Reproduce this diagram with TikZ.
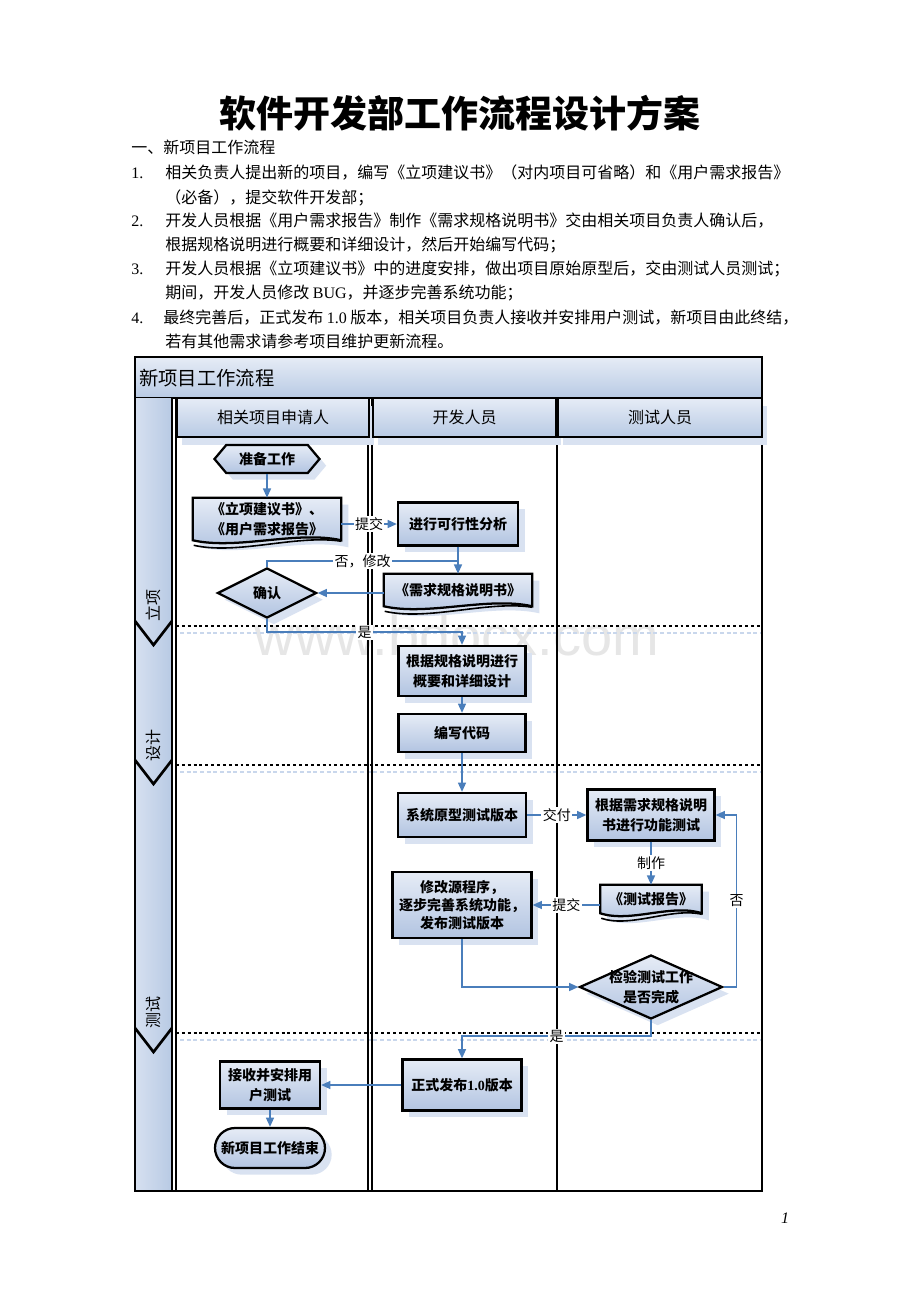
\documentclass[tikz,border=0pt]{standalone}
\usepackage{fontspec}
\setmainfont{Liberation Serif}
\newfontfamily\cjk{Noto Sans CJK SC}
\newfontfamily\wmfont{Liberation Sans}
\usetikzlibrary{shapes.geometric,shapes.symbols,shapes.misc,arrows.meta,calc,shadows}
\pgfdeclarelayer{back}
\pgfdeclarelayer{bg}
\pgfsetlayers{back,bg,main}
\definecolor{lb1}{HTML}{E6ECF6}
\definecolor{lb2}{HTML}{B2C4E1}
\definecolor{shblue}{HTML}{D9E2F1}
\definecolor{conn}{HTML}{4A7EBB}
\definecolor{colA}{HTML}{D6E0F0}
\definecolor{colB}{HTML}{B8CAE4}
\definecolor{wm}{HTML}{E6E6E6}
\definecolor{dshb}{HTML}{C9D7EC}

\tikzset{
 nodefont/.style={font=\cjk\bfseries\fontsize{10.5pt}{15pt}\selectfont},
 fc/.style={nodefont, draw=black, line width=1.7pt, top color=lb1, bottom color=lb2, align=center, inner sep=2pt,
   drop shadow={shadow xshift=5pt, shadow yshift=-5pt, fill=shblue, opacity=1}},
 procbox/.style={fc, rectangle},
 decision/.style={fc, diamond, inner sep=0pt},
 dtext/.style={nodefont, align=center, inner sep=0pt},
 docnode/.style={nodefont, rectangle, align=center, inner sep=0pt},
 flow/.style={draw=conn, line width=1.2pt, -{Triangle[width=6pt,length=7pt]}},
 flowline/.style={draw=conn, line width=1.2pt},
 lbl/.style={fill=white, inner sep=1pt, font=\cjk\fontsize{10.5pt}{12pt}\selectfont, text=black},
 body/.style={anchor=west, inner sep=0pt, text height=10.5pt, text depth=1.5pt, font=\cjk\fontsize{12pt}{14pt}\selectfont},
 numtxt/.style={anchor=west, inner sep=0pt, text height=10.5pt, text depth=1.5pt, font=\rmfamily\fontsize{12pt}{14pt}\selectfont},
 lane/.style={line width=2pt, draw=black},
 hdr/.style={draw=black, line width=1.7pt, top color=lb1, bottom color=colB, font=\cjk\fontsize{12pt}{14pt}\selectfont, minimum height=29.25pt, inner sep=0pt, drop shadow={shadow xshift=4pt, shadow yshift=-6pt, fill=shblue, opacity=1}},
 phase/.style={rotate=90, font=\cjk\fontsize{12pt}{14pt}\selectfont, inner sep=0pt},
 divider/.style={line width=2pt, dash pattern=on 2.2pt off 2.2pt},
 dividersh/.style={line width=2pt, draw=dshb, dash pattern=on 3pt off 2pt},
}

\newcommand\docshape[1]{%
 \begin{pgfonlayer}{bg}
 \fill[shblue] ($(#1.north west)+(7,7)$) -- ($(#1.north east)+(7,7)$) -- ($(#1.south east)+(7,7)$)
   .. controls ($(#1.south east)!0.3!(#1.south west)+(7,-3)$) and ($(#1.south east)!0.7!(#1.south west)+(7,17)$) .. ($(#1.south west)+(7,7)$) -- cycle;
 \path[draw=black, line width=1.7pt, top color=lb1, bottom color=lb2] (#1.north west) -- (#1.north east) -- (#1.south east)
   .. controls ($(#1.south east)!0.3!(#1.south west)+(0,-10)$) and ($(#1.south east)!0.7!(#1.south west)+(0,10)$) .. (#1.south west) -- cycle;
 \draw[line width=1.2pt] ($(#1.south west)+(1,5)$) .. controls ($(#1.south east)!0.7!(#1.south west)+(0,15)$) and ($(#1.south east)!0.3!(#1.south west)+(0,-6)$) .. ($(#1.south east)+(0,1)$);
 \end{pgfonlayer}}

\begin{document}
\begin{tikzpicture}[x=0.75pt,y=-0.75pt]
\useasboundingbox (0,0) rectangle (920,1302);

\begin{pgfonlayer}{back}
\fill[white] (0,0) rectangle (920,1302);
\node[anchor=base, text=wm, font=\wmfont\fontsize{42pt}{44pt}\selectfont] (wmark) at (457,655) {www.bdocx.com};
% title bar
\path[draw=black, line width=1.5pt, top color=lb1, bottom color=colB] (135,357) rectangle (762,398);
\node[anchor=west, font=\cjk\fontsize{14.5pt}{16pt}\selectfont, inner sep=0pt] (ttl) at (139,378) {新项目工作流程};
% phase column
\path[left color=colA, right color=colB] (135,398) rectangle (172,1191);
% dividers
\foreach \yy in {626,765,1033} {
  \draw[dividersh] (180,\yy+7) -- (762,\yy+7);
  \draw[divider] (176,\yy) -- (762,\yy);
  \draw[lane] (135,\yy-5) -- (153.5,\yy+19) -- (172,\yy-5);
}
% lane lines
\draw[lane] (135,357) -- (135,1191);
\foreach \xx in {172,176,368,372,557,762} { \draw[lane] (\xx,398) -- (\xx,1191); }
\draw[lane] (134,1191) -- (763,1191);
\node[phase] (ph1) at (153,605) {立项};
\node[phase] (ph2) at (153,745) {设计};
\node[phase] (ph3) at (153,1012) {测试};
\end{pgfonlayer}

% headers
\node[hdr, minimum width=144pt] (h1) at (273,417.5) {相关项目申请人};
\node[hdr, minimum width=137.25pt] (h2) at (464.5,417.5) {开发人员};
\node[hdr, minimum width=153pt] (h3) at (660,417.5) {测试人员};

% page title and text
\node[font=\cjk\bfseries\fontsize{27.75pt}{30pt}\selectfont, inner sep=0pt] (title) at (460,113) {软件开发部工作流程设计方案};
\node[body] (t0) at (131,148) {一、新项目工作流程};
\node[numtxt] (n1) at (131,173) {1.};
\node[body] (l1a) at (165,173) {相关负责人提出新的项目，编写《立项建议书》（对内项目可省略）和《用户需求报告》};
\node[body] (l1b) at (165,197) {（必备），提交软件开发部；};
\node[numtxt] (n2) at (131,220) {2.};
\node[body] (l2a) at (165,220) {开发人员根据《用户需求报告》制作《需求规格说明书》交由相关项目负责人确认后，};
\node[body] (l2b) at (165,244) {根据规格说明进行概要和详细设计，然后开始编写代码；};
\node[numtxt] (n3) at (131,268) {3.};
\node[body] (l3a) at (165,268) {开发人员根据《立项建议书》中的进度安排，做出项目原始原型后，交由测试人员测试；};
\node[body] (l3b) at (165,292) {期间，开发人员修改 {\rmfamily BUG}，并逐步完善系统功能；};
\node[numtxt] (n4) at (131,317) {4.};
\node[body] (l4a) at (163,317) {最终完善后，正式发布 {\rmfamily 1.0} 版本，相关项目负责人接收并安排用户测试，新项目由此终结，};
\node[body] (l4b) at (165,341) {若有其他需求请参考项目维护更新流程。};

% flow nodes
\node[fc, signal, signal to=west and east, signal pointer angle=100, minimum width=78.75pt, minimum height=21pt, inner sep=0pt] (prep) at (267,459) {准备工作};
\node[docnode, minimum width=111pt, minimum height=31.5pt] (doc1) at (267,519) {《立项建议书》、\\《用户需求报告》};
\docshape{doc1}
\node[procbox, minimum width=90pt, minimum height=32.25pt] (feas) at (458,524) {进行可行性分析};
\node[docnode, minimum width=111pt, minimum height=24pt] (spec) at (458,590) {《需求规格说明书》};
\docshape{spec}
\node[decision, minimum width=74.25pt, minimum height=37.5pt, label={[dtext]center:确认}] (confirm) at (267,593) {};
\node[procbox, minimum width=95.25pt, minimum height=37.5pt] (design) at (462,671) {根据规格说明进行\\概要和详细设计};
\node[procbox, minimum width=95.25pt, minimum height=28.5pt] (code) at (462,733) {编写代码};
\node[procbox, minimum width=96pt, minimum height=33pt] (proto) at (462,815) {系统原型测试版本};
\node[procbox, minimum width=95.25pt, minimum height=38.25pt] (functest) at (651,815) {根据需求规格说明\\书进行功能测试};
\node[docnode, minimum width=75.75pt, minimum height=21pt] (report) at (651,899) {《测试报告》};
\docshape{report}
\node[procbox, minimum width=104.25pt, minimum height=49.5pt, font=\cjk\bfseries\fontsize{10.5pt}{13.5pt}\selectfont] (modify) at (462,905) {修改源程序，\\逐步完善系统功能，\\发布测试版本};
\node[decision, minimum width=107.25pt, minimum height=48pt, label={[dtext]center:检验测试工作\\是否完成}] (check) at (651,987) {};
\node[procbox, minimum width=89.25pt, minimum height=38.25pt] (release) at (462,1085) {正式发布{\rmfamily\bfseries 1.0}版本};
\node[procbox, minimum width=75pt, minimum height=35.25pt] (accept) at (270,1085) {接收并安排用\\户测试};
\node[fc, rounded rectangle, minimum width=82.5pt, minimum height=30pt, inner sep=0pt] (endn) at (270,1148) {新项目工作结束};

% connectors
\draw[flow] (prep.south) -- (doc1.north);
\draw[flow] (doc1.east |- feas.west) -- node[lbl]{提交} (feas.west);
\draw[flow] (feas.south) -- (spec.north);
\coordinate (jn) at (458,561);
\draw[flowline] (confirm.north) |- node[lbl,pos=0.75]{否，修改} (jn);
\draw[flow] (spec.west |- confirm.east) -- (confirm.east);
\draw[flow] (confirm.south) -- ++(0,13) -| node[lbl,pos=0.25]{是} (design.north);
\draw[flow] (design.south) -- (code.north);
\draw[flow] (code.south) -- (proto.north);
\draw[flow] (proto.east) -- node[lbl]{交付} (functest.west);
\draw[flow] (functest.south) -- node[lbl]{制作} (report.north);
\draw[flow] (report.west |- modify.east) -- node[lbl]{提交} (modify.east);
\draw[flow] (modify.south) |- (check.west);
\draw[flow] (check.east) -- ++(13,0) |- node[lbl,pos=0.25]{否} (functest.east);
\draw[flow] (check.south) -- ++(0,16) -| node[lbl,pos=0.25]{是} (release.north);
\draw[flow] (release.west) -- (accept.east);
\draw[flow] (accept.south) -- (endn.north);

\node[font=\rmfamily\itshape\fontsize{12pt}{14pt}\selectfont, inner sep=0pt] (pnum) at (785,1218) {1};
\end{tikzpicture}
\end{document}
